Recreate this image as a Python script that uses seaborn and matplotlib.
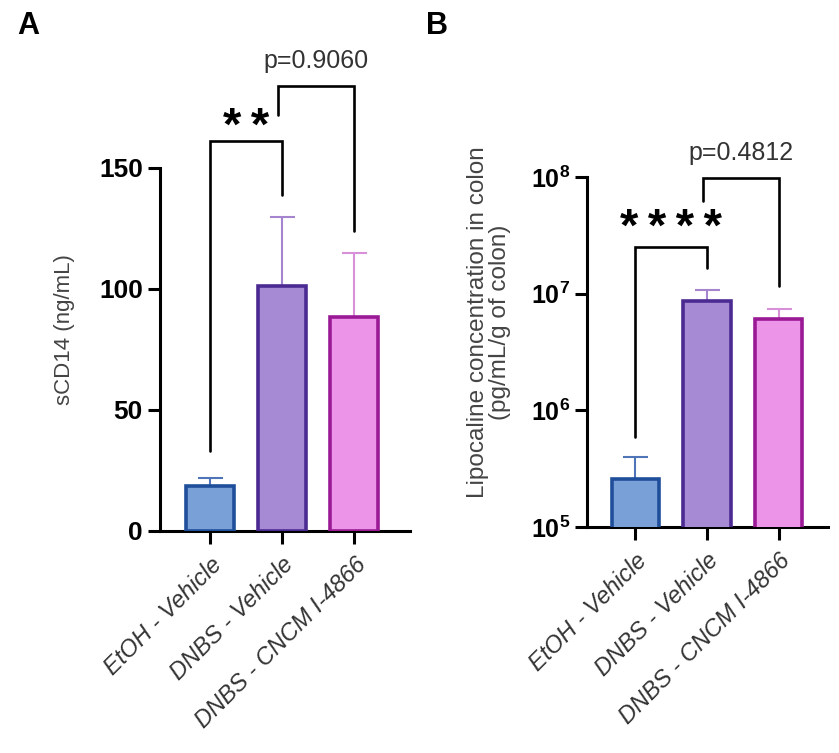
import numpy as np
import pandas as pd
import matplotlib
matplotlib.use('Agg')
import matplotlib.pyplot as plt
import seaborn as sns

# Data
groups = ['EtOH - Vehicle', 'DNBS - Vehicle', 'DNBS - CNCM I-4866']
scd14_mean = [18.5, 101.0, 88.5]
scd14_upper = [21.7, 129.8, 114.7]
lcn_mean = [2.6e5, 8.7e6, 6.1e6]
lcn_upper = [3.95e5, 1.08e7, 7.4e6]

face_colors = ['#7aa0d8', '#a68ad3', '#ec94e8']
edge_colors = ['#1f4e9a', '#4b2a92', '#9a1a96']
err_colors = ['#4f74b8', '#a585d0', '#d890d8']

# significance brackets: (left idx, right idx, left foot, right foot, top, label)
brackets_a = [(0, 1, 33, 139, 161, '*\u2009*'), (1, 2, 172, 124, 184, 'p=0.9060')]
brackets_b = [(0, 1, 5.9e5, 1.67e7, 2.5e7, '*\u2009*\u2009*\u2009*'),
              (1, 2, 6.2e7, 1.16e7, 9.7e7, 'p=0.4812')]

sns.set_style('ticks')
plt.rcParams['font.family'] = ['Liberation Sans', 'DejaVu Sans']
plt.rcParams['text.color'] = 'black'
plt.rcParams['mathtext.fontset'] = 'custom'
plt.rcParams['mathtext.bf'] = 'Liberation Sans:bold'
plt.rcParams['mathtext.rm'] = 'Liberation Sans'

fig = plt.figure(figsize=(8.39, 7.53), dpi=100)
ax_a = fig.add_axes([0.191, 0.295, 0.298, 0.482])
ax_b = fig.add_axes([0.700, 0.300, 0.287, 0.465])


def draw_panel(ax, means, uppers, brackets, log=False):
    df = pd.DataFrame({'group': groups, 'value': means})
    sns.barplot(data=df, x='group', y='value', hue='group', palette=face_colors,
                saturation=1, legend=False, width=0.66, ax=ax, errorbar=None, zorder=3)
    for patch, ec in zip(ax.patches, edge_colors):
        patch.set_edgecolor(ec)
        patch.set_linewidth(2.6)
    for i, (m, u) in enumerate(zip(means, uppers)):
        ax.errorbar(i, m, yerr=[[0], [u - m]], color=err_colors[i], lw=1.5,
                    capsize=9, capthick=1.5, zorder=2)
    for li, ri, lf, rf, top, label in brackets:
        xl, xr = li, ri
        if li > 0:
            xl = li - 0.05
        ax.plot([xl, xl, xr, xr], [lf, top, top, rf], color='black', lw=1.9,
                clip_on=False, solid_joinstyle='miter')
        if label.startswith('p'):
            ty = top * 1.65 if log else top + 10
            ax.text((xl + xr) / 2, ty, label, ha='center', va='center',
                    fontsize=18, color='#333333')
        else:
            ty = top * 1.42 if log else top + 5.5
            ax.text((xl + xr) / 2, ty, label, ha='center', va='center',
                    fontsize=34, fontweight='bold', color='black')
    sns.despine(ax=ax)
    for s in ['left', 'bottom']:
        ax.spines[s].set_linewidth(2.2)
        ax.spines[s].set_color('black')
    ax.tick_params(axis='both', width=2.2, length=9, color='black',
                   labelcolor='black')
    ax.tick_params(axis='x', pad=7)
    ax.set_xlabel('')
    ax.set_xticks(range(len(groups)))
    ax.set_xticklabels(groups, rotation=45, ha='right', rotation_mode='anchor',
                       fontsize=17, fontstyle='italic', color='#333333')


draw_panel(ax_a, scd14_mean, scd14_upper, brackets_a)
ax_a.set_ylim(0, 150)
ax_a.set_yticks([0, 50, 100, 150])
ax_a.set_yticklabels(['0', '50', '100', '150'], fontweight='bold', fontsize=19)
ax_a.set_xlim(-0.69, 2.78)
ax_a.set_ylabel('sCD14 (ng/mL)', fontsize=16, color='#444444')
ax_a.yaxis.set_label_coords(-0.34, 0.555)

ax_b.set_yscale('log')
draw_panel(ax_b, lcn_mean, lcn_upper, brackets_b, log=True)
ax_b.set_yscale('log')
ax_b.set_ylim(1e5, 1e8)
ax_b.set_yticks([1e5, 1e6, 1e7, 1e8])
ax_b.set_yticklabels([r'$\mathbf{10^{5}}$', r'$\mathbf{10^{6}}$',
                      r'$\mathbf{10^{7}}$', r'$\mathbf{10^{8}}$'], fontsize=18)
ax_b.minorticks_off()
ax_b.set_xlim(-0.67, 2.69)
ax_b.set_ylabel('Lipocaline concentration in colon\n(pg/mL/g of colon)',
                fontsize=17.5, color='#444444', linespacing=1.05)
ax_b.yaxis.set_label_coords(-0.315, 0.585)

fig.text(0.020, 0.985, 'A', fontsize=22, fontweight='bold', va='top')
fig.text(0.508, 0.985, 'B', fontsize=22, fontweight='bold', va='top')

fig.savefig('out.png', dpi=100)
